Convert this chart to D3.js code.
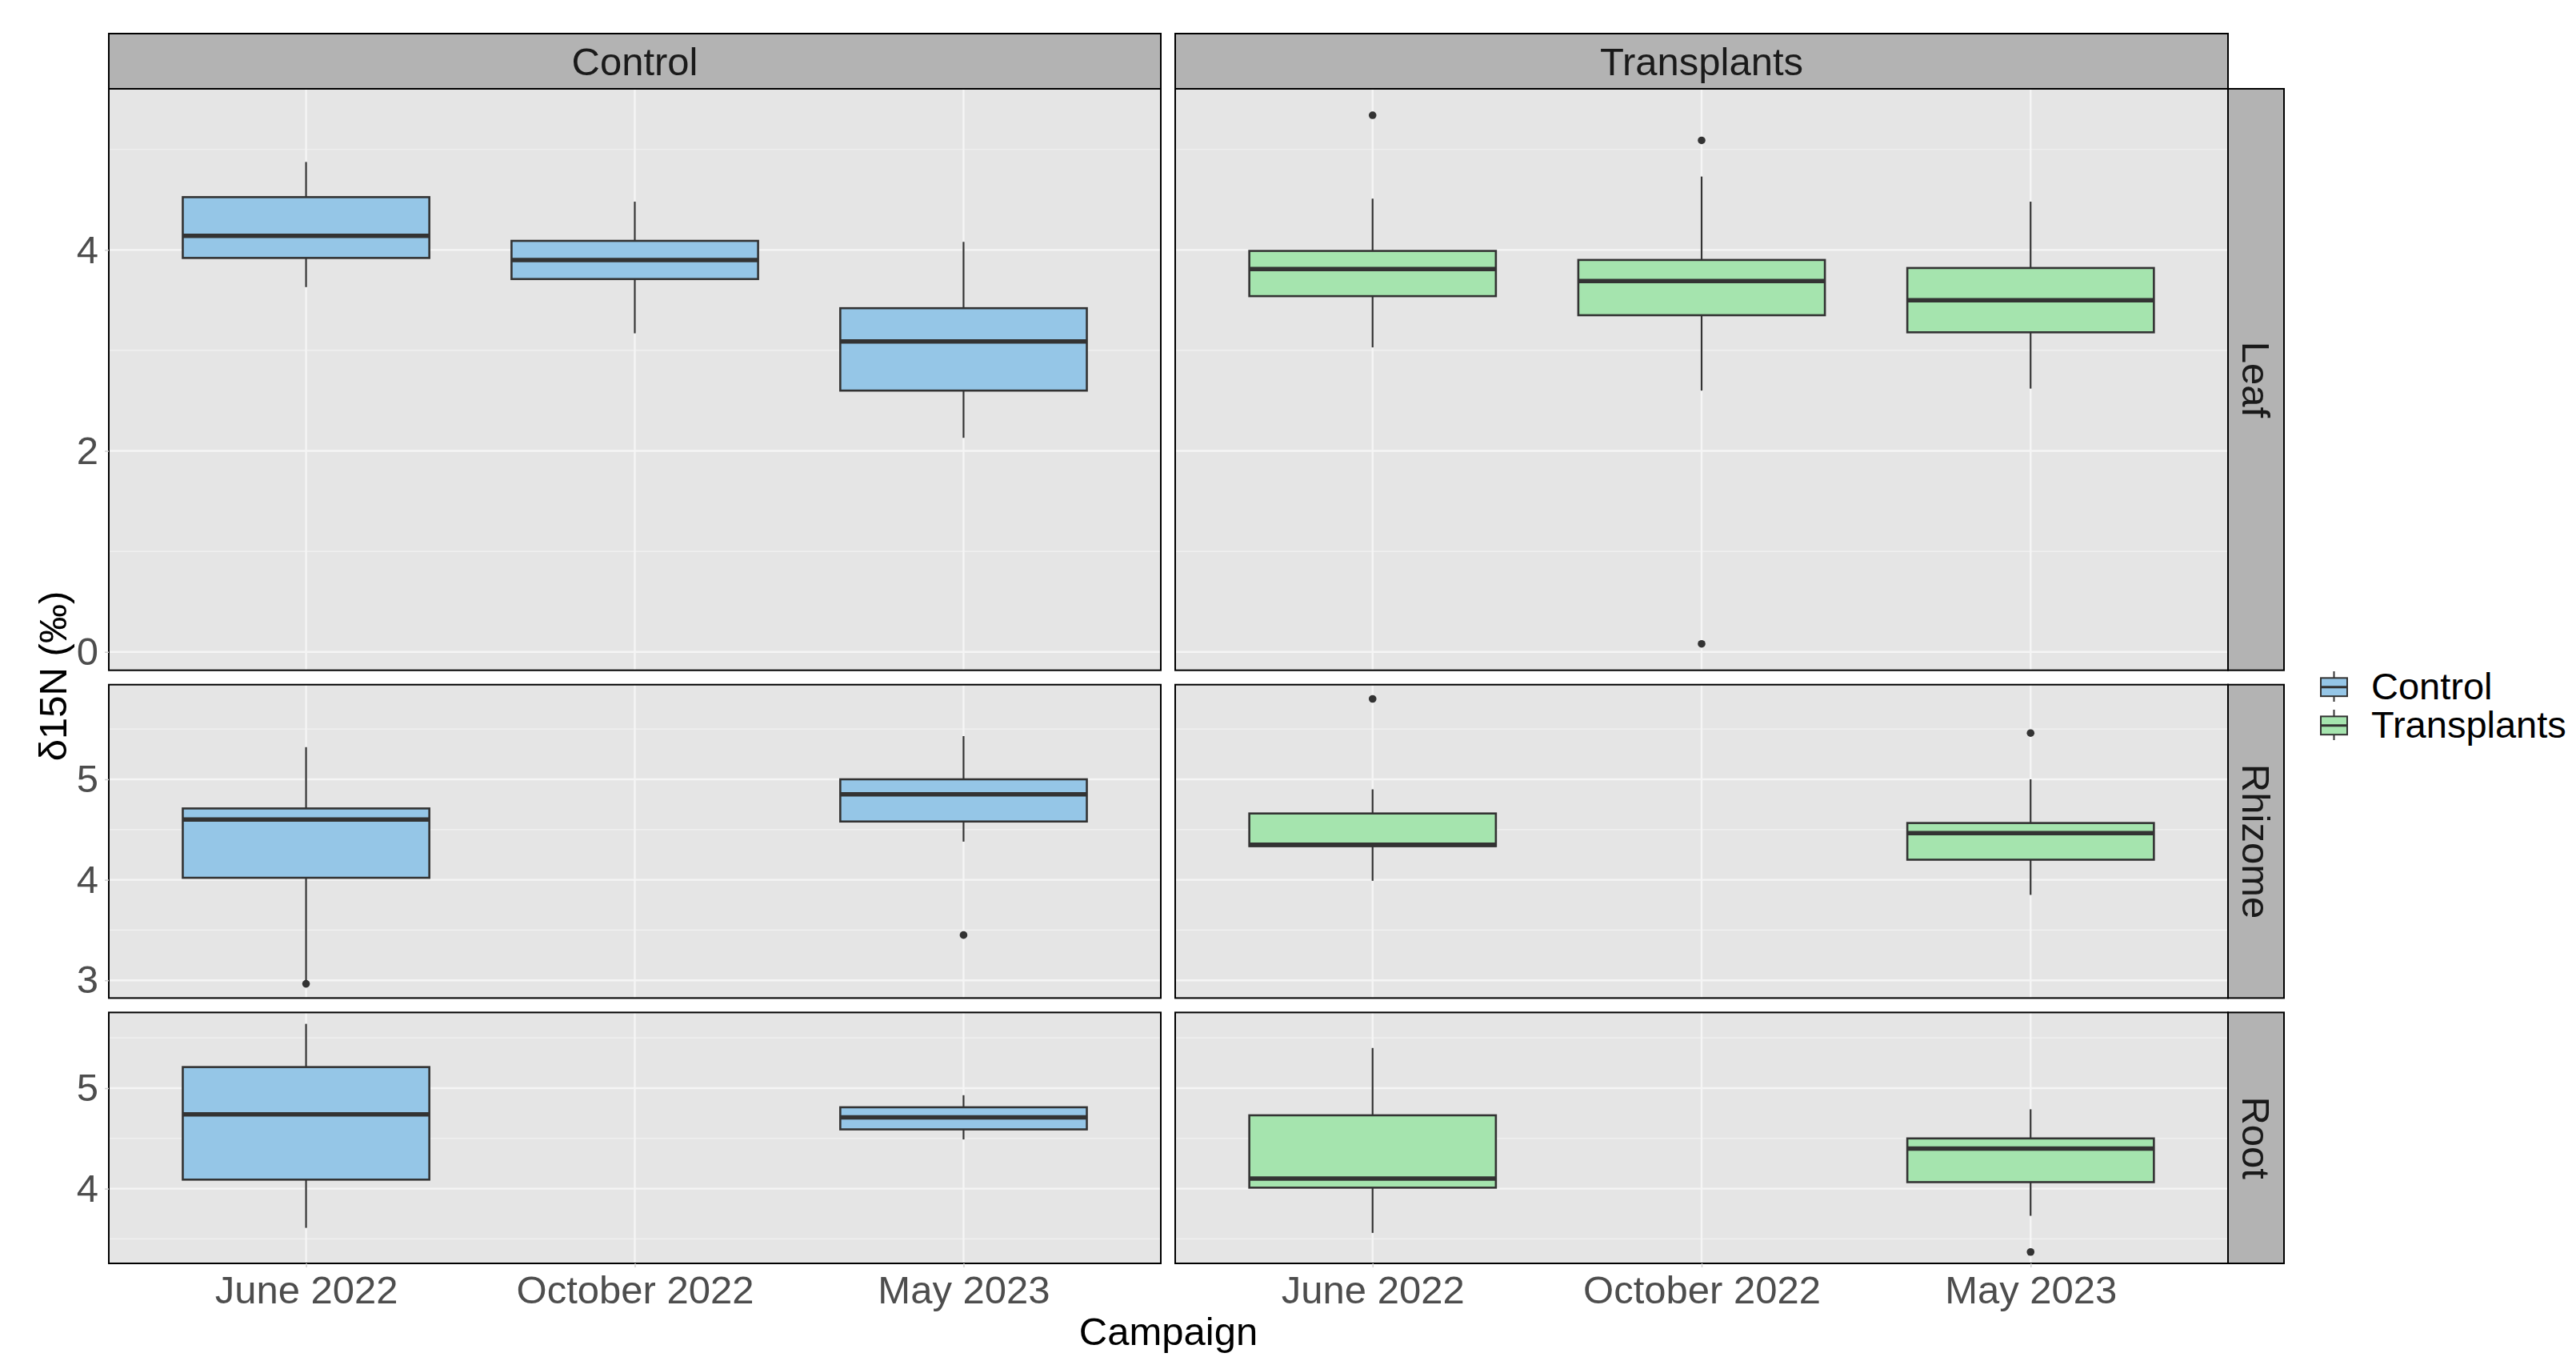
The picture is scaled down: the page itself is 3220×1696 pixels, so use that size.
<!DOCTYPE html>
<html>
<head>
<meta charset="utf-8">
<script src="https://cdn.jsdelivr.net/npm/d3@7"></script>
<style>
  html, body { margin: 0; padding: 0; background: #ffffff; }
  svg { display: block; font-family: "Liberation Sans", Arial, sans-serif; }
</style>
</head>
<body>
<svg id="chart" width="3220" height="1696"></svg>
<script>
// Facet levels
const treatments = ["Control", "Transplants"];
const tissues = ["Leaf", "Rhizome", "Root"];
const campaigns = ["June 2022", "October 2022", "May 2023"];

// Box statistics per tissue / treatment / campaign:
// [lower whisker, Q1, median, Q3, upper whisker]
const leafControl = [
  [3.63, 3.92, 4.14, 4.525, 4.875],
  [3.17, 3.71, 3.90, 4.09, 4.48],
  [2.13, 2.60, 3.09, 3.42, 4.08]
];
const leafTransplants = [
  [3.03, 3.54, 3.81, 3.99, 4.51],
  [2.60, 3.35, 3.69, 3.90, 4.73],
  [2.62, 3.18, 3.50, 3.82, 4.48]
];
const rhizomeControl = [
  [2.99, 4.02, 4.60, 4.71, 5.32],
  null,
  [4.38, 4.58, 4.85, 5.00, 5.43]
];
const rhizomeTransplants = [
  [3.99, 4.335, 4.35, 4.66, 4.90],
  null,
  [3.85, 4.20, 4.465, 4.565, 5.00]
];
const rootControl = [
  [3.61, 4.09, 4.74, 5.21, 5.64],
  null,
  [4.49, 4.59, 4.71, 4.81, 4.93]
];
const rootTransplants = [
  [3.56, 4.01, 4.10, 4.73, 5.40],
  null,
  [3.73, 4.065, 4.40, 4.50, 4.79]
];

// Outlying observations per tissue / treatment / campaign
const leafControlOut = [[], [], []];
const leafTransplantsOut = [[5.34], [5.09, 0.08], []];
const rhizomeControlOut = [[2.965], [], [3.45]];
const rhizomeTransplantsOut = [[5.80], [], [5.46]];
const rootControlOut = [[], [], []];
const rootTransplantsOut = [[], [], [3.37]];

// Y breaks per tissue row
const leafMajor = [0, 2, 4], leafMinor = [1, 3, 5];
const rhizomeMajor = [3, 4, 5], rhizomeMinor = [3.5, 4.5, 5.5];
const rootMajor = [4, 5], rootMinor = [3.5, 4.5, 5.5];

const fillColors = { Control: "#95C6E7", Transplants: "#A5E4AE" };

const stats = {
  Leaf: { Control: leafControl, Transplants: leafTransplants },
  Rhizome: { Control: rhizomeControl, Transplants: rhizomeTransplants },
  Root: { Control: rootControl, Transplants: rootTransplants }
};
const outliers = {
  Leaf: { Control: leafControlOut, Transplants: leafTransplantsOut },
  Rhizome: { Control: rhizomeControlOut, Transplants: rhizomeTransplantsOut },
  Root: { Control: rootControlOut, Transplants: rootTransplantsOut }
};
const breaks = {
  Leaf: { major: leafMajor, minor: leafMinor },
  Rhizome: { major: rhizomeMajor, minor: rhizomeMinor },
  Root: { major: rootMajor, minor: rootMinor }
};

// Layout
const colX = [[136, 1451], [1469, 2785]];
const stripTop = 42, panelTop = 111, panelBottom = 1579, rowGap = 18;
const stripRight = [2785, 2855];
const fontSize = 49;
const ink = "#333333";

const svg = d3.select("#chart");

// Free y scales with 5% expansion, panel heights proportional to span
const domains = tissues.map(t => {
  const vals = [];
  treatments.forEach(tr => {
    stats[t][tr].forEach(s => { if (s) vals.push(...s); });
    outliers[t][tr].forEach(o => vals.push(...o));
  });
  const lo = d3.min(vals), hi = d3.max(vals), pad = (hi - lo) * 0.05;
  return [lo - pad, hi + pad];
});
const spans = domains.map(d => d[1] - d[0]);
const usable = panelBottom - panelTop - rowGap * (tissues.length - 1);
const pxPerUnit = usable / d3.sum(spans);
const rowY = [];
let yCursor = panelTop;
tissues.forEach((t, i) => {
  const h = spans[i] * pxPerUnit;
  rowY.push([yCursor, yCursor + h]);
  yCursor += h + rowGap;
});
const yScales = tissues.map((t, i) =>
  d3.scaleLinear().domain(domains[i]).range([rowY[i][1], rowY[i][0]]));
const xScales = treatments.map((tr, j) =>
  d3.scalePoint().domain(campaigns).range(colX[j]).padding(0.6));

const boxW = xScales[0].step() * 0.75;

// Column strips
treatments.forEach((tr, j) => {
  const g = svg.append("g");
  g.append("rect")
    .attr("x", colX[j][0]).attr("y", stripTop)
    .attr("width", colX[j][1] - colX[j][0]).attr("height", panelTop - stripTop)
    .attr("fill", "#B3B3B3").attr("stroke", "#000").attr("stroke-width", 2);
  g.append("text")
    .attr("x", (colX[j][0] + colX[j][1]) / 2).attr("y", (stripTop + panelTop) / 2)
    .attr("dy", "0.35em").attr("text-anchor", "middle")
    .attr("font-size", fontSize).attr("fill", "#1A1A1A").text(tr);
});

// Row strips
tissues.forEach((t, i) => {
  const g = svg.append("g");
  g.append("rect")
    .attr("x", stripRight[0]).attr("y", rowY[i][0])
    .attr("width", stripRight[1] - stripRight[0]).attr("height", rowY[i][1] - rowY[i][0])
    .attr("fill", "#B3B3B3").attr("stroke", "#000").attr("stroke-width", 2);
  const cx = (stripRight[0] + stripRight[1]) / 2, cy = (rowY[i][0] + rowY[i][1]) / 2;
  g.append("text")
    .attr("transform", `translate(${cx},${cy}) rotate(90)`)
    .attr("dy", "0.35em").attr("text-anchor", "middle")
    .attr("font-size", fontSize).attr("fill", "#1A1A1A").text(t);
});

// Panels
tissues.forEach((t, i) => {
  const y = yScales[i];
  treatments.forEach((tr, j) => {
    const x = xScales[j];
    const [x0, x1] = colX[j];
    const [y0, y1] = rowY[i];
    const g = svg.append("g");

    g.append("rect").attr("x", x0).attr("y", y0)
      .attr("width", x1 - x0).attr("height", y1 - y0).attr("fill", "#E5E5E5");

    // grid lines
    g.selectAll(".gmin").data(breaks[t].minor.filter(v => v > domains[i][0] && v < domains[i][1]))
      .enter().append("line")
      .attr("x1", x0).attr("x2", x1).attr("y1", d => y(d)).attr("y2", d => y(d))
      .attr("stroke", "#F2F2F2").attr("stroke-width", 1.2);
    g.selectAll(".gmaj").data(breaks[t].major)
      .enter().append("line")
      .attr("x1", x0).attr("x2", x1).attr("y1", d => y(d)).attr("y2", d => y(d))
      .attr("stroke", "#F5F5F5").attr("stroke-width", 2.4);
    g.selectAll(".gx").data(campaigns)
      .enter().append("line")
      .attr("x1", d => x(d)).attr("x2", d => x(d)).attr("y1", y0).attr("y2", y1)
      .attr("stroke", "#F5F5F5").attr("stroke-width", 2.4);

    // boxplots
    const col = fillColors[tr];
    campaigns.forEach((c, k) => {
      const s = stats[t][tr][k];
      const cx = x(c);
      if (s) {
        const [wlo, q1, med, q3, whi] = s;
        g.append("line").attr("x1", cx).attr("x2", cx).attr("y1", y(q3)).attr("y2", y(whi))
          .attr("stroke", ink).attr("stroke-width", 2.2);
        g.append("line").attr("x1", cx).attr("x2", cx).attr("y1", y(q1)).attr("y2", y(wlo))
          .attr("stroke", ink).attr("stroke-width", 2.2);
        g.append("rect").attr("x", cx - boxW / 2).attr("y", y(q3))
          .attr("width", boxW).attr("height", y(q1) - y(q3))
          .attr("fill", col).attr("stroke", ink).attr("stroke-width", 2.6);
        g.append("line").attr("x1", cx - boxW / 2).attr("x2", cx + boxW / 2)
          .attr("y1", y(med)).attr("y2", y(med))
          .attr("stroke", ink).attr("stroke-width", 5.5);
      }
      g.selectAll(null).data(outliers[t][tr][k]).enter().append("circle")
        .attr("cx", cx).attr("cy", d => y(d)).attr("r", 4.8).attr("fill", ink);
    });

    g.append("rect").attr("x", x0).attr("y", y0)
      .attr("width", x1 - x0).attr("height", y1 - y0)
      .attr("fill", "none").attr("stroke", "#000").attr("stroke-width", 2);

    // y axis on left column
    if (j === 0) {
      const ax = svg.append("g").attr("transform", `translate(${x0},0)`)
        .call(d3.axisLeft(y).tickValues(breaks[t].major).tickSize(5).tickPadding(8).tickFormat(d3.format("d")));
      ax.select(".domain").remove();
      ax.selectAll(".tick line").attr("stroke", "#D0D0D0").attr("stroke-width", 1.5);
      ax.selectAll(".tick text").attr("font-size", fontSize).attr("fill", "#4D4D4D")
        .attr("font-family", "Liberation Sans, Arial, sans-serif");
    }
    // x axis on bottom row
    if (i === tissues.length - 1) {
      const ax = svg.append("g").attr("transform", `translate(0,${y1})`)
        .call(d3.axisBottom(x).tickSize(5).tickPadding(10));
      ax.select(".domain").remove();
      ax.selectAll(".tick line").attr("stroke", "#D0D0D0").attr("stroke-width", 1.5);
      ax.selectAll(".tick text").attr("font-size", fontSize).attr("fill", "#4D4D4D")
        .attr("font-family", "Liberation Sans, Arial, sans-serif");
    }
  });
});

// Axis titles
svg.append("text")
  .attr("x", (colX[0][0] + colX[1][1]) / 2).attr("y", 1681)
  .attr("text-anchor", "middle").attr("font-size", fontSize).attr("fill", "#000")
  .text("Campaign");
svg.append("text")
  .attr("transform", `translate(66,${(panelTop + panelBottom) / 2}) rotate(-90)`)
  .attr("dy", "0.35em").attr("text-anchor", "middle")
  .attr("font-size", fontSize).attr("fill", "#000")
  .text("δ15N (‰)");

// Legend
const legend = svg.append("g").attr("transform", "translate(2900,839)");
treatments.forEach((tr, k) => {
  const g = legend.append("g").attr("transform", `translate(0,${k * 48})`);
  const kw = 35, kh = 38;
  g.append("line").attr("x1", kw / 2).attr("x2", kw / 2).attr("y1", 0).attr("y2", kh)
    .attr("stroke", ink).attr("stroke-width", 2);
  g.append("rect").attr("x", 1).attr("y", kh * 0.22).attr("width", kw - 2).attr("height", kh * 0.6)
    .attr("fill", fillColors[tr]).attr("stroke", ink).attr("stroke-width", 2);
  g.append("line").attr("x1", 1).attr("x2", kw - 1).attr("y1", kh * 0.52).attr("y2", kh * 0.52)
    .attr("stroke", ink).attr("stroke-width", 3);
  g.append("text").attr("x", 64).attr("y", kh / 2).attr("dy", "0.35em")
    .attr("font-size", 47).attr("fill", "#000").text(tr);
});
</script>
</body>
</html>
